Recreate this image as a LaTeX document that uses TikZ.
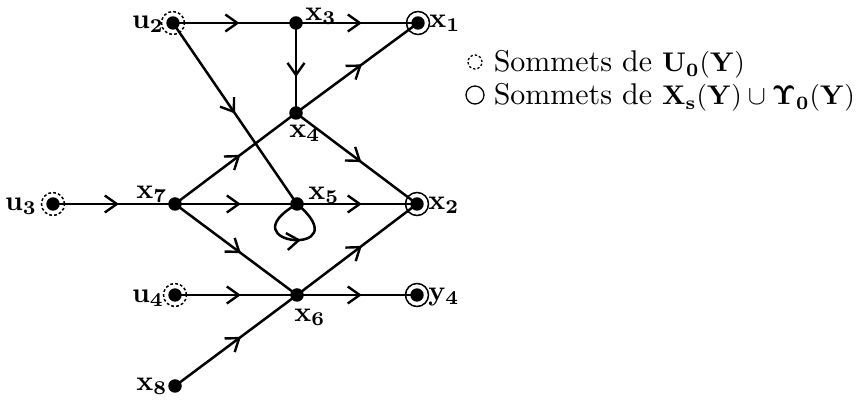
\documentclass[tikz,border=0pt]{standalone}
\usepackage{graphicx}
\usetikzlibrary{decorations.markings,arrows.meta}
\newcommand{\lm}[1]{\scalebox{0.9}{$#1$}}
\begin{document}
\begin{tikzpicture}[x=1pt,y=1pt,line width=2.5pt,
  dot/.style={circle,fill=black,inner sep=0pt,minimum size=13.5pt},
  ring/.style={circle,draw,line width=1.5pt,inner sep=0pt,minimum size=23pt,
    path picture={\fill[black] (path picture bounding box.center) circle (6.7pt);}},
  dring/.style={ring,dash pattern=on 2.8pt off 2.2pt},
  mid/.style={postaction={decorate},decoration={markings,mark=at position #1 with {\arrow{Straight Barb[length=12pt,width=17pt,line width=2.4pt]}}}},
  mid/.default=0.54,
  lab/.style={inner sep=0pt,scale=2.8},
  leg/.style={inner sep=0pt,anchor=base west,scale=3.0},
]
\useasboundingbox (0,0) rectangle (862,401);
% vertices
\node[dring] (u2) at (173,378) {};
\node[dot]   (x3) at (296,378) {};
\node[ring]  (x1) at (418,378) {};
\node[dot]   (x4) at (296,288) {};
\node[dring] (u3) at (53,197) {};
\node[dot]   (x7) at (175,197) {};
\node[dot]   (x5) at (297,197) {};
\node[ring]  (x2) at (417,197) {};
\node[dring] (u4) at (175,106) {};
\node[dot]   (x6) at (297,106) {};
\node[ring]  (y4) at (417,106) {};
\node[dot]   (x8) at (175,15) {};
% labels
\node[lab] (lu2) at (148,377) {$\mathbf{u_2}$};
\node[lab] (lx3) at (321,385) {$\mathbf{x_3}$};
\node[lab] (lx1) at (445,378) {$\mathbf{x_1}$};
\node[lab] (lx4) at (305,268) {$\mathbf{x_4}$};
\node[lab] (lx7) at (152,207) {$\mathbf{x_7}$};
\node[lab] (lx5) at (324,206) {$\mathbf{x_5}$};
\node[lab] (lx2) at (444,196) {$\mathbf{x_2}$};
\node[lab] (lu3) at (21,195) {$\mathbf{u_3}$};
\node[lab] (lu4) at (148,103) {$\mathbf{u_4}$};
\node[lab] (lx6) at (310,84) {$\mathbf{x_6}$};
\node[lab] (ly4) at (444,104) {$\mathbf{y_4}$};
\node[lab] (lx8) at (152,15) {$\mathbf{x_8}$};
% edges
\draw[mid] (u2.center) -- (x3.center);
\draw[mid] (x3.center) -- (x1.center);
\draw[mid=0.6] (x3.center) -- (x4.center);
\draw[mid] (x4.center) -- (x1.center);
\draw[mid=0.5] (u2.center) -- (x5.center);
\draw[mid] (x4.center) -- (x2.center);
\draw[mid] (x7.center) -- (x4.center);
\draw[mid] (u3.center) -- (x7.center);
\draw[mid] (x7.center) -- (x5.center);
\draw[mid] (x5.center) -- (x2.center);
\draw[mid] (x7.center) -- (x6.center);
\draw[mid] (x6.center) -- (x2.center);
\draw[mid] (u4.center) -- (x6.center);
\draw[mid] (x6.center) -- (y4.center);
\draw[mid] (x8.center) -- (x6.center);
\draw[mid=0.56] (x5.center) .. controls +(-150:84) and +(-40:84) .. (x5.center);
% legend
\node[circle,draw,line width=1.3pt,minimum size=14pt,inner sep=0pt,dash pattern=on 2.4pt off 2pt] (ld) at (475,339) {};
\node[circle,draw,line width=1.3pt,minimum size=18pt,inner sep=0pt] (ls) at (475,306) {};
\node[leg] (t1) at (490,329) {Sommets de \lm{\mathbf{U_0}(\mathbf{Y})}};
\node[leg] (t2) at (490,296) {Sommets de \lm{\mathbf{X_s}(\mathbf{Y})\cup\mathbf{\Upsilon_0}(\mathbf{Y})}};
\end{tikzpicture}
\end{document}
